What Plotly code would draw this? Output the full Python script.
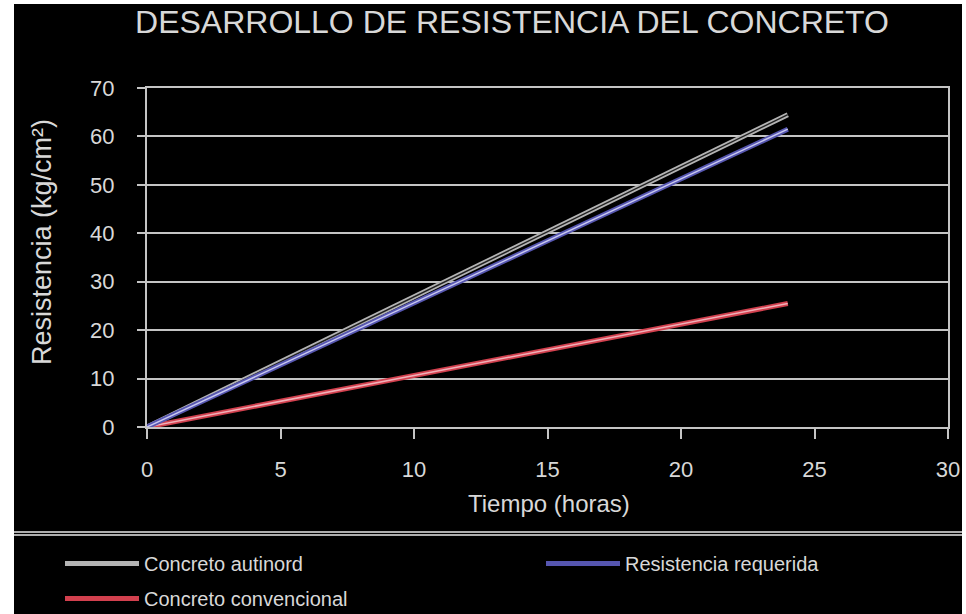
import plotly.graph_objects as go

# ---- data ----
horas = [0, 24]
concreto_autinord = [0, 64.5]
resistencia_requerida = [0, 61.5]
concreto_convencional = [0, 25.5]

x_ticks = [0, 5, 10, 15, 20, 25, 30]
y_ticks = [0, 10, 20, 30, 40, 50, 60, 70]

W, H = 966, 614
L, R, T, B = 147, 18, 88, 187
PW = W - L - R
PH = H - T - B

def px(x):
    return (x - L) / PW

def py(y):
    return (H - B - y) / PH

FONT = "Liberation Sans, Arial, sans-serif"
TXT = "#d8d8d8"

fig = go.Figure()

series = [
    ("Concreto autinord", concreto_autinord, "#b4b4b4", "#202020", "legend"),
    ("Concreto convencional", concreto_convencional, "#d2404e", "#f0b0b8", "legend"),
    ("Resistencia requerida", resistencia_requerida, "#5656b0", "#c8c8f0", "legend2"),
]
for name, vals, outer, inner, leg in series:
    fig.add_trace(go.Scatter(x=horas, y=vals, mode="lines", name=name,
                             line=dict(color=outer, width=5), legend=leg,
                             legendgroup=name, showlegend=True))
    fig.add_trace(go.Scatter(x=horas, y=vals, mode="lines", name=name,
                             line=dict(color=inner, width=1.5), legend=leg,
                             legendgroup=name, showlegend=False, hoverinfo="skip"))

axis_common = dict(gridcolor="#c4c4c4", gridwidth=2,
                   showline=True, linecolor="#c4c4c4", linewidth=2,
                   ticks="outside", tickcolor="#c4c4c4", tickwidth=2,
                   tickfont=dict(family=FONT, size=22, color=TXT),
                   zeroline=False, mirror=True)

fig.update_xaxes(range=[0, 30], tickvals=x_ticks, ticklen=10, showgrid=False,
                 ticklabelstandoff=12, **axis_common)
fig.update_yaxes(range=[0, 70], tickvals=y_ticks, ticklen=8, showgrid=True,
                 ticklabelstandoff=18, **axis_common)

shapes = []
white = dict(type="rect", xref="paper", yref="paper", fillcolor="white",
             line=dict(width=0), layer="above")
# left strip
shapes.append(dict(white, x0=px(0), x1=px(14), y0=py(0), y1=py(H)))
# top strip
shapes.append(dict(white, x0=px(0), x1=px(W), y0=py(0), y1=py(4)))
# right strip
shapes.append(dict(white, x0=px(962), x1=px(W), y0=py(0), y1=py(H)))
# separator double line
for yy in (532, 535):
    shapes.append(dict(type="line", xref="paper", yref="paper", x0=px(14), x1=px(962),
                       y0=py(yy), y1=py(yy), line=dict(color="#e8e8e8", width=1.5),
                       layer="above"))

annotations = [
    dict(text="Resistencia (kg/cm²)", xref="paper", yref="paper", x=px(42), y=py(242),
         textangle=-90, showarrow=False, xanchor="center", yanchor="middle",
         font=dict(family=FONT, size=27, color=TXT)),
    dict(text="Tiempo (horas)", xref="paper", yref="paper", x=px(549), y=py(503),
         showarrow=False, xanchor="center", yanchor="middle",
         font=dict(family=FONT, size=24, color=TXT)),
]

legend_font = dict(family=FONT, size=20, color=TXT)
fig.update_layout(
    width=W, height=H,
    margin=dict(l=L, r=R, t=T, b=B, autoexpand=False),
    paper_bgcolor="black", plot_bgcolor="black",
    title=dict(text="DESARROLLO DE RESISTENCIA DEL CONCRETO", x=512 / W, xanchor="center",
               y=1 - 22 / H, yanchor="middle",
               font=dict(family=FONT, size=32, color=TXT)),
    shapes=shapes, annotations=annotations,
    legend=dict(x=px(60), y=py(544), xanchor="left", yanchor="top",
                bgcolor="rgba(0,0,0,0)", font=legend_font, itemwidth=74,
                tracegroupgap=6, orientation="v"),
    legend2=dict(x=px(541), y=py(544), xanchor="left", yanchor="top",
                 bgcolor="rgba(0,0,0,0)", font=legend_font, itemwidth=74,
                 orientation="v"),
    showlegend=True,
)

fig.write_html("out.html", config={"displayModeBar": False},
               post_script="document.body.style.margin='0';document.body.style.overflow='hidden';")
